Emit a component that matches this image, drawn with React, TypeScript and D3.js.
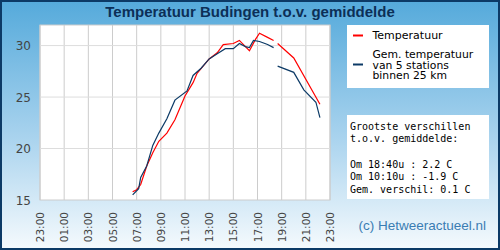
import React from "react";
import * as d3 from "d3";

const title = "Temperatuur Budingen t.o.v. gemiddelde";

// Local station temperature (°C); null marks a gap in the record
const tempTimes = ["06:40", "07:00", "07:20", "07:50", "08:20", "08:50", "09:30", "10:10", "11:00", "11:40", "12:00", "13:00", "13:40", "14:10", "15:00", "15:30", "16:00", "16:20", "16:50", "17:10", "17:50", "18:20", "18:30", "18:40", "20:00", "22:10"];
const tempValues: (number | null)[] = [15.8, 16.0, 16.5, 18.3, 19.6, 20.7, 21.5, 22.8, 25.1, 26.4, 27.3, 28.7, 29.3, 30.1, 30.2, 30.5, 29.9, 29.5, 30.6, 31.2, 30.8, 30.5, null, 30.2, 28.8, 24.3];

// Mean of 5 stations within 25 km
const avgTimes = ["06:40", "07:10", "07:20", "07:50", "08:20", "08:50", "09:30", "10:10", "11:10", "11:40", "12:20", "13:00", "13:40", "14:20", "15:00", "15:30", "16:00", "16:20", "16:40", "17:10", "17:50", "18:20", "18:30", "18:40", "20:00", "20:50", "21:50", "22:10"];
const avgValues: (number | null)[] = [15.5, 16.1, 17.2, 18.3, 20.3, 21.5, 22.9, 24.7, 25.6, 27.1, 27.8, 28.7, 29.2, 29.7, 29.7, 30.2, 29.9, 29.8, 30.5, 30.4, 30.1, 29.8, null, 28.0, 27.4, 25.7, 24.5, 23.0];

const xTickHours = [-1, 1, 3, 5, 7, 9, 11, 13, 15, 17, 19, 21, 23];
const yTicks = [15, 20, 25, 30];

const legendLabels = ["Temperatuur", ["Gem. temperatuur", "van 5 stations", "binnen 25 km"]];
const infoLines = ["Grootste verschillen", "t.o.v. gemiddelde:", "", "Om 18:40u : 2.2 C", "Om 10:10u : -1.9 C", "Gem. verschil: 0.1 C"];
const credit = "(c) Hetweeractueel.nl";

const W = 500;
const H = 250;
const plot = { left: 40, right: 330, top: 25, bottom: 200 };

const toHour = (s: string) => {
  const [h, m] = s.split(":").map(Number);
  return h + m / 60;
};
const hourLabel = (h: number) => String((h + 24) % 24).padStart(2, "0") + ":00";

type Pt = { t: number; v: number | null };
const zip = (ts: string[], vs: (number | null)[]): Pt[] => ts.map((t, i) => ({ t: toHour(t), v: vs[i] }));

export default function App() {
  const x = d3.scaleLinear().domain([-1, 23]).range([plot.left, plot.right]);
  const y = d3.scaleLinear().domain([15, 32]).range([plot.bottom, plot.top]);
  const line = d3
    .line<Pt>()
    .defined((d) => d.v != null)
    .x((d) => x(d.t))
    .y((d) => y(d.v as number));

  const navy = "#0c3a66";
  const sans = "'DejaVu Sans', sans-serif";
  const mono = "'DejaVu Sans Mono', monospace";

  return (
    <svg width={W} height={H} style={{ position: "absolute", left: 0, top: 0, display: "block" }}>
      <defs>
        <linearGradient id="bg" x1="0" y1="0" x2="0" y2="1">
          <stop offset="0" stopColor="#55aadb" />
          <stop offset="0.55" stopColor="#a9d3ee" />
          <stop offset="1" stopColor="#f5fafd" />
        </linearGradient>
      </defs>
      <rect x={1} y={1} width={W - 2} height={H - 2} fill="url(#bg)" stroke={navy} strokeWidth={2} />
      <text x={250} y={17} textAnchor="middle" fontFamily="'Liberation Sans', Arial, sans-serif" fontWeight="bold" fontSize={15} fill="#0c2f57">
        {title}
      </text>

      {/* plot area */}
      <rect x={plot.left} y={plot.top} width={plot.right - plot.left} height={plot.bottom - plot.top} fill="#fff" stroke="#cccccc" strokeWidth={1} />
      {xTickHours.map((h) => (
        <line key={"gx" + h} x1={x(h)} x2={x(h)} y1={plot.top} y2={plot.bottom} stroke="#cccccc" strokeWidth={1} />
      ))}
      {yTicks.slice(1).map((v) => (
        <line key={"gy" + v} x1={plot.left} x2={plot.right} y1={y(v)} y2={y(v)} stroke="#dddddd" strokeWidth={1} />
      ))}
      {yTicks.map((v) => (
        <text key={"ly" + v} x={31} y={y(v) + 4.5} textAnchor="end" fontFamily={sans} fontSize={12} fill="#444">
          {v}
        </text>
      ))}
      {xTickHours.map((h) => (
        <text
          key={"lx" + h}
          transform={`translate(${x(h) + 4},212) rotate(-90)`}
          textAnchor="end"
          fontFamily={sans}
          fontSize={10.5}
          fill="#444"
        >
          {hourLabel(h)}
        </text>
      ))}

      <path d={line(zip(tempTimes, tempValues)) || ""} fill="none" stroke="#ff0000" strokeWidth={1.2} />
      <path d={line(zip(avgTimes, avgValues)) || ""} fill="none" stroke={navy} strokeWidth={1.2} />

      {/* legend */}
      <rect x={347} y={25} width={142} height={63} fill="#fff" />
      <line x1={353} x2={363} y1={35.5} y2={35.5} stroke="#ff0000" strokeWidth={2} />
      <text x={372.5} y={39} fontFamily={sans} fontSize={11} fill="#000">
        {legendLabels[0] as string}
      </text>
      <line x1={353} x2={363} y1={64.5} y2={64.5} stroke={navy} strokeWidth={2} />
      {(legendLabels[1] as string[]).map((s, i) => (
        <text key={s} x={372.5} y={58 + i * 10.6} fontFamily={sans} fontSize={10.8} fill="#000">
          {s}
        </text>
      ))}

      {/* differences box */}
      <rect x={347} y={115} width={142} height={84} fill="#fff" />
      {infoLines.map((s, i) => (
        <text key={i} x={350} y={129.5 + i * 12.7} fontFamily={mono} fontSize={10} fill="#000" style={{ whiteSpace: "pre" }}>
          {s}
        </text>
      ))}

      <text x={486} y={230} textAnchor="end" fontFamily="'Liberation Sans', Arial, sans-serif" fontSize={13.5} fill="#3a7db3">
        {credit}
      </text>
    </svg>
  );
}
